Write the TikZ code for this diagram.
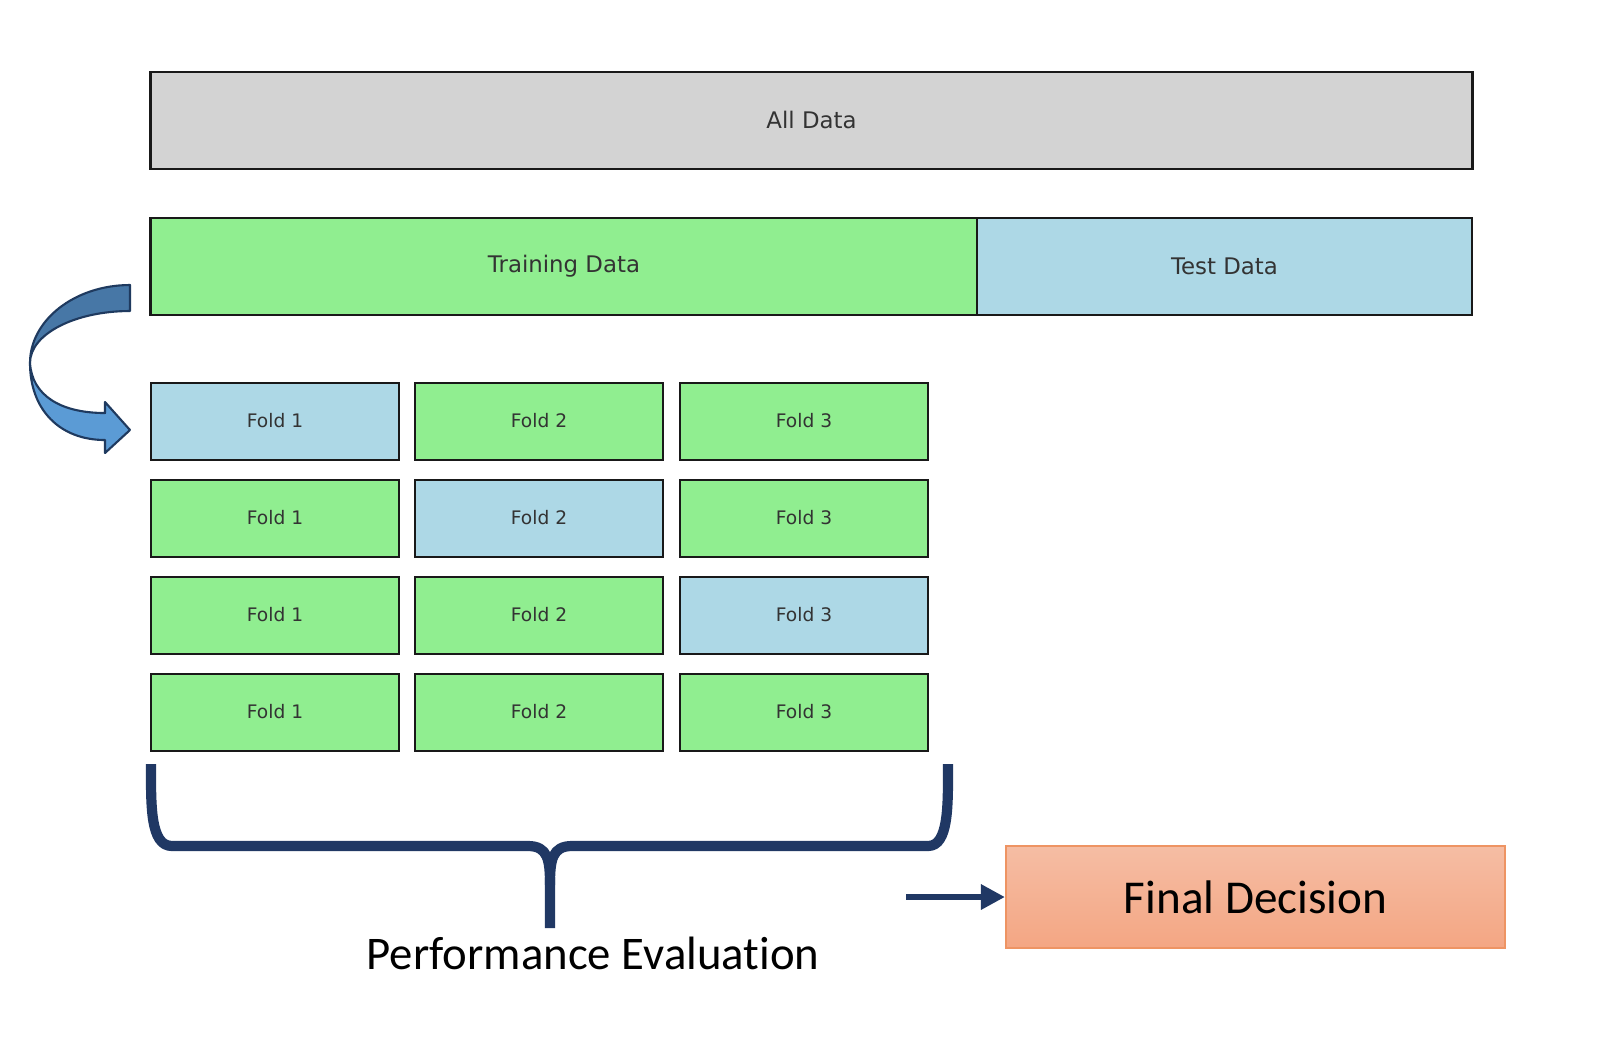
\documentclass[tikz,border=0pt]{standalone}
\usepackage{fontspec}
\setmainfont{Carlito}[Ligatures=NoCommon]
\newfontfamily\dv{DejaVu Sans}
\usetikzlibrary{arrows.meta}
\definecolor{cgray}{HTML}{D3D3D3}
\definecolor{cgreen}{HTML}{90EE90}
\definecolor{cblue}{HTML}{ADD8E6}
\definecolor{navy}{HTML}{203864}
\definecolor{arrdark}{HTML}{4777A6}
\definecolor{arrlight}{HTML}{5B9BD5}
\definecolor{arrline}{HTML}{1F3A5F}
\definecolor{fdtop}{HTML}{F5BDA4}
\definecolor{fdbot}{HTML}{F4A683}
\definecolor{fdline}{HTML}{EE9463}
\definecolor{txt}{HTML}{333333}
\tikzset{
  databox/.style={draw=black!90, line width=0.75pt, inner sep=0pt, text=txt,
    font=\dv\fontsize{6.5}{7.5}\selectfont},
  bigbox/.style={databox, minimum height=0.97cm},
  foldbox/.style={databox, minimum width=2.48cm, minimum height=0.77cm,
    font=\dv\fontsize{5.3}{6}\selectfont},
  brace/.style={draw=navy, line width=2.9pt, line cap=butt, line join=round},
  arrowshape/.style={draw=arrline, line width=0.6pt, line join=round},
}
\begin{document}
\begin{tikzpicture}[x=0.01cm,y=-0.01cm]
\fill[white] (0,0) rectangle (1602,1050);
\useasboundingbox (0,0) rectangle (1602,1050);

\node[bigbox, fill=cgray, minimum width=13.21cm] (all) at (811.5,120.5) {\raisebox{0.5pt}{All Data}};
\node[bigbox, fill=cgreen, minimum width=8.26cm] (train) at (564,266.5) {Training Data};
\node[bigbox, fill=cblue, minimum width=4.95cm] (test) at (1224.5,266.5) {\raisebox{-0.2pt}{Test Data}};

% folds
\node[foldbox, fill=cblue]  (f11) at (275,421.5) {\raisebox{0.5pt}{Fold 1}};
\node[foldbox, fill=cgreen] (f12) at (539,421.5) {\raisebox{0.5pt}{Fold 2}};
\node[foldbox, fill=cgreen] (f13) at (804,421.5) {\raisebox{0.5pt}{Fold 3}};
\node[foldbox, fill=cgreen] (f21) at (275,518.5) {\raisebox{0.5pt}{Fold 1}};
\node[foldbox, fill=cblue]  (f22) at (539,518.5) {\raisebox{0.5pt}{Fold 2}};
\node[foldbox, fill=cgreen] (f23) at (804,518.5) {\raisebox{0.5pt}{Fold 3}};
\node[foldbox, fill=cgreen] (f31) at (275,615.5) {\raisebox{0.5pt}{Fold 1}};
\node[foldbox, fill=cgreen] (f32) at (539,615.5) {\raisebox{0.5pt}{Fold 2}};
\node[foldbox, fill=cblue]  (f33) at (804,615.5) {\raisebox{0.5pt}{Fold 3}};
\node[foldbox, fill=cgreen] (f41) at (275,712.5) {\raisebox{0.5pt}{Fold 1}};
\node[foldbox, fill=cgreen] (f42) at (539,712.5) {\raisebox{0.5pt}{Fold 2}};
\node[foldbox, fill=cgreen] (f43) at (804,712.5) {\raisebox{0.5pt}{Fold 3}};

% curved arrow
\path[arrowshape, fill=arrdark] (130,285) .. controls (75,285) and (30,320) .. (30,363)
  .. controls (30,334) and (75,311) .. (130,311) -- cycle;
\path[arrowshape, fill=arrlight] (30,363) .. controls (30,410) and (60,440) .. (105,440)
  -- (105,453) -- (130,430) -- (105,402) -- (105,413)
  .. controls (60,413) and (32,395) .. (30,363) -- cycle;

% brace
\draw[brace] (151,764) .. controls (151,805) and (150,846) .. (172,846) -- (528,846)
  .. controls (548,846) and (550,860) .. (550,885) -- (550,928);
\draw[brace] (948,764) .. controls (948,805) and (949,846) .. (928,846) -- (572,846)
  .. controls (552,846) and (550,860) .. (550,885);

\node[font=\fontsize{13.3}{15}\selectfont, inner sep=0pt] (perf) at (593,953) {Performance Evaluat\kern0pt ion};

\node[shade, top color=fdtop, bottom color=fdbot, draw=fdline, line width=0.5pt,
  minimum width=4.99cm, minimum height=1.02cm, inner sep=0pt,
  font=\fontsize{13.4}{15}\selectfont] (fd) at (1255.5,897) {Final Decision};

\coordinate (pe) at (906,897);
\draw[navy, line width=1.9pt, -{Triangle[length=0.24cm, width=0.24cm]}] (pe) -- (fd.west);
\end{tikzpicture}
\end{document}
